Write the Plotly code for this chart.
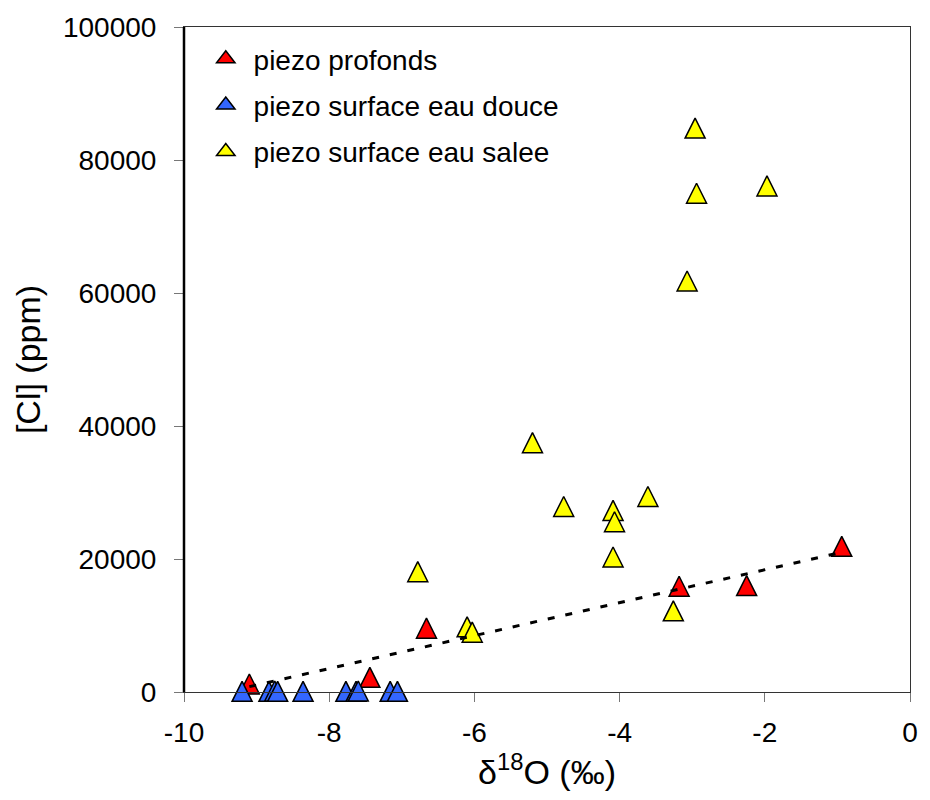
import numpy as np
import plotly.graph_objects as go

# piezo profonds
x_profonds = [-9.10, -7.44, -6.66, -3.18, -2.25, -0.94]
y_profonds = [1200, 2200, 9600, 15900, 16000, 21900]

# piezo surface eau douce
x_douce = [-9.20, -8.83, -8.75, -8.71, -8.36, -7.77, -7.63, -7.60, -7.16, -7.06]
y_douce = [100, 100, 150, 100, 100, 100, 100, 150, 100, 100]

# piezo surface eau salee
x_salee = [-2.96, -2.94, -1.97, -3.07, -5.20, -4.77, -4.09, -4.07, -3.61,
           -4.09, -3.26, -6.10, -6.03, -6.78]
y_salee = [84800, 75000, 76100, 61800, 37500, 27900, 27300, 25600, 29400,
           20300, 12200, 9800, 9000, 18100]

series_names = ["piezo profonds", "piezo surface eau douce", "piezo surface eau salee"]
series_colors = ["#FF0000", "#3366FF", "#FFFF00"]

x_ticks = [-10, -8, -6, -4, -2, 0]
y_ticks = [0, 20000, 40000, 60000, 80000, 100000]

FONT = "Liberation Sans, Arial, sans-serif"
MS = 20

def marker(color):
    # upward triangle (equal width/height) centred on the data point
    return dict(symbol="arrow-down", angle=180, size=MS, standoff=MS / 2,
                color=color, line=dict(color="black", width=1.5))

fig = go.Figure()
for xs, ys, nm, col in zip([x_profonds, x_douce, x_salee],
                           [y_profonds, y_douce, y_salee],
                           series_names, series_colors):
    fig.add_trace(go.Scatter(x=xs, y=ys, mode="markers", name=nm,
                             showlegend=False, marker=marker(col),
                             cliponaxis=False))

# linear trendline of piezo profonds
slope, intercept = np.polyfit(x_profonds, y_profonds, 1)
tx = np.array([min(x_profonds), max(x_profonds)])
fig.add_trace(go.Scatter(x=tx, y=slope * tx + intercept, mode="lines",
                         showlegend=False, hoverinfo="skip",
                         line=dict(color="black", width=3, dash="7px,11px"),
                         cliponaxis=False))

# legend entries
for i, (nm, col) in enumerate(zip(series_names, series_colors)):
    fig.add_trace(go.Scatter(x=[None], y=[None], mode="markers",
                             name="\u00a0" + nm, legendgroup=str(i),
                             marker=dict(symbol="triangle-up", size=18, color=col,
                                         line=dict(color="black", width=1.5))))

fig.update_layout(
    width=930, height=800,
    margin=dict(l=184, r=13, t=24, b=108),
    paper_bgcolor="white", plot_bgcolor="white",
    font=dict(family=FONT, size=28, color="black"),
    showlegend=True,
    legend=dict(x=0.030, y=0.9895, xanchor="left", yanchor="top",
                bgcolor="rgba(0,0,0,0)", font=dict(size=28),
                traceorder="grouped", tracegroupgap=7),
    xaxis=dict(range=[-10, 0], tickvals=x_ticks, ticktext=[str(v) for v in x_ticks],
               showgrid=False, zeroline=False, showline=True, linecolor="#333",
               linewidth=1, mirror=True, ticks="outside", ticklen=9,
               tickcolor="#777", tickwidth=1, ticklabelstandoff=6,
               title=dict(text="δ<sup>18</sup>O (‰)", font=dict(size=34), standoff=9)),
    yaxis=dict(range=[0, 100000], tickvals=y_ticks, ticktext=[str(v) for v in y_ticks],
               showgrid=False, zeroline=False, showline=True, linecolor="#333",
               linewidth=1, mirror=True, ticks="outside", ticklen=9,
               tickcolor="#777", tickwidth=1, ticklabelstandoff=12,
               title=dict(text="[Cl] (ppm)", font=dict(size=34), standoff=12)),
    shapes=[dict(type="line", xref="paper", yref="paper", x0=0, x1=0, y0=0, y1=1,
                 line=dict(color="black", width=2.5), layer="above")],
)

fig.write_html("out.html")
